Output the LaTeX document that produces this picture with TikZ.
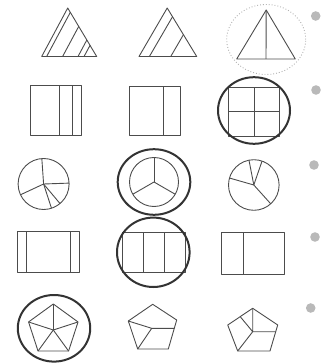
\documentclass[tikz,border=0pt]{standalone}
\usetikzlibrary{calc}
\tikzset{
  fig/.style={draw=black!70, line width=0.9pt, line join=round},
  ring/.style={draw=black!80, line width=2pt},
  guide/.style={draw=gray!60, dotted, line width=0.9pt},
  badge/.style={fill=gray!55},
}
\begin{document}
\begin{tikzpicture}[x=1pt, y=-1pt]
  \useasboundingbox (0,0) rectangle (331,363);
  % row 1: triangles
  \coordinate (t1a) at (41.7,56.5); \coordinate (t1b) at (96.7,56.5); \coordinate (t1c) at (67.7,8);
  \draw[fig] (t1a) -- (t1b) -- (t1c) -- cycle;
  \foreach \f in {0.09,0.38,0.66,0.77}
    \draw[fig] ($(t1a)!\f!(t1b)$) -- ($(t1c)!\f!(t1b)$);
  \coordinate (t2a) at (139,56.5); \coordinate (t2b) at (196.7,56.5); \coordinate (t2c) at (167.2,8);
  \draw[fig] (t2a) -- (t2b) -- (t2c) -- cycle;
  \foreach \f in {0.18,0.55}
    \draw[fig] ($(t2a)!\f!(t2b)$) -- ($(t2c)!\f!(t2b)$);
  \coordinate (t3a) at (236.7,59); \coordinate (t3b) at (295.3,59); \coordinate (t3c) at (266.2,10);
  \draw[fig] (t3a) -- (t3b) -- (t3c) -- cycle;
  \draw[fig] (t3c) -- ($(t3a)!0.5!(t3b)$);
  \draw[guide] (266.2,39.5) ellipse [x radius=39.5pt, y radius=35pt];
  % row 2: squares
  \draw[fig] (30,85.7) rectangle (81.3,135);
  \draw[fig] (59.3,85.7) -- (59.3,135) (72.7,85.7) -- (72.7,135);
  \draw[fig] (129,86.7) rectangle (180.3,135.7);
  \draw[fig] (163.3,86.7) -- (163.3,135.7);
  \draw[fig] (228.7,87.3) rectangle (279.3,136.7);
  \draw[fig] (254.3,87.3) -- (254.3,136.7) (228.7,111.7) -- (279.3,111.7);
  \draw[ring] (254,110.5) ellipse [x radius=36pt, y radius=33.3pt];
  % row 3: pies
  \coordinate (p1) at (43.6,184);
  \draw[fig] (p1) circle [radius=25.5pt];
  \foreach \a in {94,2,205,-72,-50}
    \draw[fig] (p1) -- ++(\a:25.5pt);
  \coordinate (p2) at (154,182);
  \draw[fig] (p2) circle [radius=24.5pt];
  \foreach \a in {90,210,330}
    \draw[fig] (p2) -- ++(\a:24.5pt);
  \draw[ring] (p2) ellipse [x radius=36.3pt, y radius=32.8pt];
  \coordinate (p3) at (253.8,185);
  \draw[fig] (p3) circle [radius=25.3pt];
  \foreach \a in {164,-48,101,71}
    \draw[fig] (p3) -- ++(\a:25.3pt);
  % row 4: rectangles
  \draw[fig] (17.3,231.7) rectangle (79.3,272.7);
  \draw[fig] (26,231.7) -- (26,272.7) (70.7,231.7) -- (70.7,272.7);
  \draw[fig] (122.3,232.3) rectangle (185.7,272.7);
  \draw[fig] (143.3,232.3) -- (143.3,272.7) (164,232.3) -- (164,272.7);
  \draw[ring] (153.3,252.3) ellipse [x radius=36.3pt, y radius=34.7pt];
  \draw[fig] (221.7,232.7) rectangle (284.3,274);
  \draw[fig] (243.3,232.7) -- (243.3,274);
  % row 5: pentagons
  \coordinate (q1) at (53.3,330);
  \draw[fig] (q1) ++(90:26pt) \foreach \a in {162,234,306,18} { -- ($(q1)+(\a:26pt)$) } -- cycle;
  \foreach \a in {90,162,234,306,18}
    \draw[fig] (q1) -- ++(\a:26pt);
  \draw[ring] (54,328.3) ellipse [x radius=36.2pt, y radius=33.3pt];
  \coordinate (q2a) at (152.7,304.3); \coordinate (q2b) at (176.7,320);
  \coordinate (q2c) at (168.3,349); \coordinate (q2d) at (137.7,349);
  \coordinate (q2e) at (128.3,321); \coordinate (q2m) at (151.7,328.3);
  \draw[fig] (q2a) -- (q2b) -- (q2c) -- (q2d) -- (q2e) -- cycle;
  \draw[fig] (q2e) -- (q2m) -- ($(q2b)!0.29!(q2c)$) (q2m) -- (q2d);
  \coordinate (q3a) at (252.7,308.3); \coordinate (q3b) at (277.7,325);
  \coordinate (q3c) at (270,351); \coordinate (q3d) at (237.7,351);
  \coordinate (q3e) at (227.7,325); \coordinate (q3m) at (252.7,331.7);
  \draw[fig] (q3a) -- (q3b) -- (q3c) -- (q3d) -- (q3e) -- cycle;
  \draw[fig] (q3a) -- (q3m) -- ($(q3b)!0.26!(q3c)$) (q3m) -- (q3d)
    (q3m) -- ($(q3a)!0.5!(q3e)$);
  % badges
  \foreach \p in {(315.7,16),(316,90),(314,165),(315,237),(310.7,308)}
    \fill[badge] \p circle [radius=4.8pt];
\end{tikzpicture}
\end{document}
